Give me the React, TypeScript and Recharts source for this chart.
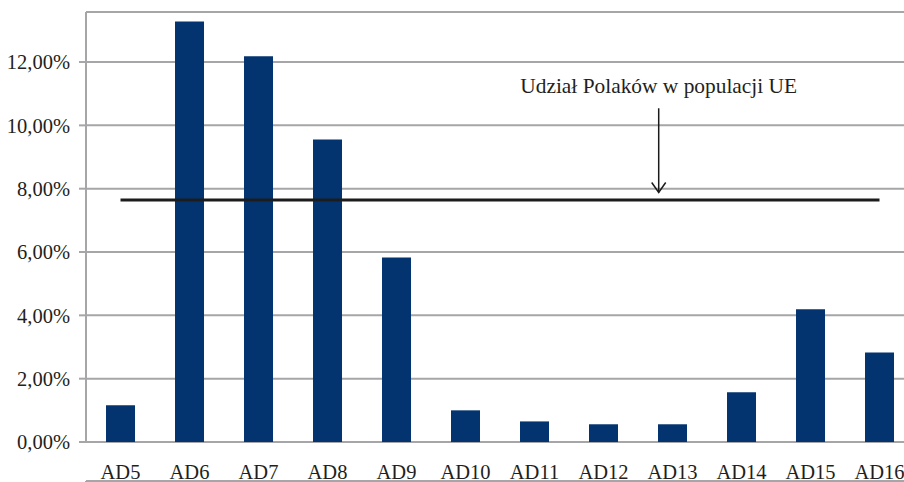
import React from 'react';
import {
  BarChart,
  Bar,
  XAxis,
  YAxis,
  CartesianGrid,
  ReferenceLine,
} from 'recharts';

const categories = ['AD5', 'AD6', 'AD7', 'AD8', 'AD9', 'AD10', 'AD11', 'AD12', 'AD13', 'AD14', 'AD15', 'AD16'];
const shares = [1.16, 13.28, 12.18, 9.55, 5.83, 1.0, 0.65, 0.56, 0.56, 1.57, 4.19, 2.83];
const yTicks = [0, 2, 4, 6, 8, 10, 12];
const edgeTicks = [0, 1, 2, 3, 4, 5, 6, 7, 8, 9, 10, 11, 12];

// Polish share of EU population
const euShare = 7.64;
const annotationText = 'Udział Polaków w populacji UE';
const arrowX = 8.3; // position on the category-edge axis (0..12)
const arrowTop = 10.54;
const arrowBottom = 7.88;

const data = categories.map((name, i) => ({ name, value: shares[i] }));

const GRID = '#a6a6a8';
const TEXT = '#231f20';
const BAR = '#03346f';
const FONT = 'Liberation Serif';

const fmtPct = (v: number) => v.toFixed(2).replace('.', ',') + '%';

const CategoryTick = (props: any) => {
  const { x, y, payload } = props;
  return (
    <text x={x} y={y} dy={37} textAnchor="middle" fill={TEXT} fontSize={20.5} fontFamily={FONT}>
      {payload.value}
    </text>
  );
};

const ArrowShape = (props: any) => {
  const { x1, y1, x2, y2 } = props;
  return (
    <g>
      <text x={x1} y={y1 - 15} textAnchor="middle" fill={TEXT} fontSize={21.4} fontFamily={FONT}>
        {annotationText}
      </text>
      <line x1={x1} y1={y1} x2={x2} y2={y2} stroke="#1a1a1a" strokeWidth={1.5} />
      <polyline
        points={`${x2 - 7},${y2 - 10} ${x2},${y2} ${x2 + 7},${y2 - 10}`}
        fill="none"
        stroke="#1a1a1a"
        strokeWidth={1.5}
      />
    </g>
  );
};

export default function App() {
  return (
    <div
      style={{
        position: 'absolute',
        left: 0,
        top: 0,
        width: 904,
        height: 482,
        overflow: 'hidden',
        background: '#fff',
      }}
    >
      <BarChart
        width={940}
        height={482}
        data={data}
        margin={{ top: 12, right: 26, bottom: 0, left: 0 }}
        barCategoryGap="29%"
      >
        <CartesianGrid vertical={false} stroke={GRID} strokeWidth={2} />
        <XAxis
          xAxisId="edge"
          dataKey="value"
          type="number"
          domain={[0, 12]}
          allowDataOverflow
          ticks={edgeTicks}
          height={1}
          axisLine={{ stroke: GRID, strokeWidth: 2 }}
          tickLine={{ stroke: GRID, strokeWidth: 2 }}
          tickSize={13}
          tickFormatter={() => ''}
        />
        <XAxis
          dataKey="name"
          height={39}
          axisLine={false}
          tickLine={false}
          tickSize={0}
          tickMargin={0}
          interval={0}
          tick={<CategoryTick />}
        />
        <YAxis
          width={86}
          domain={[0, 13.58]}
          ticks={yTicks}
          tickFormatter={fmtPct}
          axisLine={{ stroke: GRID, strokeWidth: 2 }}
          tickLine={{ stroke: GRID, strokeWidth: 2 }}
          tickSize={7}
          tickMargin={9}
          tick={{ fill: TEXT, fontSize: 20.5, fontFamily: FONT }}
          allowDataOverflow
        />
        <Bar dataKey="value" fill={BAR} isAnimationActive={false} />
        <ReferenceLine
          segment={[
            { x: 'AD5', y: euShare },
            { x: 'AD16', y: euShare },
          ]}
          stroke="#1c1c1c"
          strokeWidth={3}
          ifOverflow="visible"
        />
        <ReferenceLine
          xAxisId="edge"
          segment={[
            { x: arrowX, y: arrowTop },
            { x: arrowX, y: arrowBottom },
          ]}
          shape={<ArrowShape />}
          ifOverflow="visible"
        />
      </BarChart>
    </div>
  );
}
